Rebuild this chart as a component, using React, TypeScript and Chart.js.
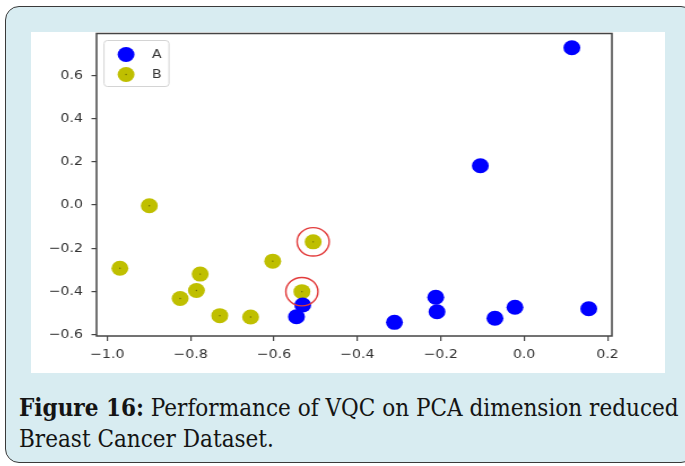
import React, { useEffect, useRef } from "react";
import { Chart, registerables } from "chart.js";

Chart.register(...registerables);

// ---- data ----
const seriesLabels = ["A", "B"];
const aX = [0.1145, -0.105, -0.212, -0.209, -0.311, -0.07, -0.022, 0.155, -0.531, -0.546];
const aY = [0.727, 0.182, -0.426, -0.493, -0.542, -0.523, -0.472, -0.479, -0.462, -0.516];
const bX = [-0.899, -0.9695, -0.777, -0.786, -0.825, -0.73, -0.656, -0.603, -0.533, -0.506];
const bY = [-0.003, -0.292, -0.319, -0.395, -0.432, -0.511, -0.517, -0.259, -0.4, -0.17];
// indices of B points that are circled in red
const circledB = [8, 9];
const xTicks = [-1.0, -0.8, -0.6, -0.4, -0.2, 0.0, 0.2];
const yTicks = [-0.6, -0.4, -0.2, 0.0, 0.2, 0.4, 0.6];
const xMin = -1.0255;
const xMax = 0.2105;
const yMin = -0.605;
const yMax = 0.793;
const captionBold = "Figure 16:";
const captionRest = " Performance of VQC on PCA dimension reduced Breast Cancer Dataset.";

const colA = "#0000ff";
const colB = "#bfbf00";
const frameCol = "#444444";
// the reference figure is slightly stretched horizontally
const STRETCH = 1.13;
const BOX_W = 634;
const BOX_H = 341;
const TOP_SHIFT = 6; // canvas extends above the white panel (clipped)
const CW = Math.round(BOX_W / STRETCH);
const CH = BOX_H + TOP_SHIFT;

const fmt = (v: number) => (v < -1e-9 ? "\u2212" : "") + Math.abs(v).toFixed(1);

const framePlugin = {
  id: "frame",
  afterDatasetsDraw(chart: any) {
    const { ctx, chartArea: ca } = chart;
    ctx.save();
    const metaB = chart.getDatasetMeta(1);
    ctx.fillStyle = "#6b6b00";
    metaB.data.forEach((pt: any) => {
      ctx.beginPath();
      ctx.arc(pt.x, pt.y, 0.7, 0, Math.PI * 2);
      ctx.fill();
    });
    const xs = chart.scales.x;
    const ys = chart.scales.y;
    ctx.strokeStyle = "#e23b3b";
    ctx.lineWidth = 1.4;
    circledB.forEach((i) => {
      const px = xs.getPixelForValue(bX[i]);
      const py = ys.getPixelForValue(bY[i]);
      ctx.beginPath();
      ctx.arc(px, py, 14.2, 0, Math.PI * 2);
      ctx.stroke();
    });
    ctx.strokeStyle = frameCol;
    ctx.lineWidth = 1.5;
    ctx.strokeRect(ca.left, ca.top, ca.right - ca.left, ca.bottom - ca.top);
    // legend
    const lx = ca.left + 6.6;
    const ly = ca.top + 7;
    const lw = 57.5;
    const lh = 46;
    ctx.beginPath();
    (ctx as any).roundRect(lx, ly, lw, lh, 3);
    ctx.fillStyle = "rgba(255,255,255,0.85)";
    ctx.fill();
    ctx.strokeStyle = "#d4d4d4";
    ctx.lineWidth = 1;
    ctx.stroke();
    const cols = [colA, colB];
    seriesLabels.forEach((lab, i) => {
      const my = ly + 14 + i * 20;
      ctx.beginPath();
      ctx.arc(lx + 19.5, my, 7.5, 0, Math.PI * 2);
      ctx.fillStyle = cols[i];
      ctx.fill();
      if (i === 1) {
        ctx.beginPath();
        ctx.arc(lx + 19.5, my, 0.7, 0, Math.PI * 2);
        ctx.fillStyle = "#6b6b00";
        ctx.fill();
      }
      ctx.fillStyle = "#333333";
      ctx.font = "12.5px 'DejaVu Sans'";
      ctx.textBaseline = "middle";
      ctx.textAlign = "left";
      ctx.fillText(lab, lx + 42.5, my + 0.5);
    });
    ctx.restore();
  },
};

export default function App() {
  const ref = useRef<HTMLCanvasElement>(null);
  useEffect(() => {
    if (!ref.current) return;
    const chart = new Chart(ref.current, {
      type: "scatter",
      data: {
        datasets: [
          {
            label: seriesLabels[0],
            data: aX.map((x, i) => ({ x, y: aY[i] })),
            backgroundColor: colA,
            borderWidth: 0,
            pointRadius: 7.5,
            pointHoverRadius: 7.5,
          },
          {
            label: seriesLabels[1],
            data: bX.map((x, i) => ({ x, y: bY[i] })),
            backgroundColor: colB,
            borderWidth: 0,
            pointRadius: 7.5,
            pointHoverRadius: 7.5,
          },
        ],
      },
      options: {
        animation: false,
        responsive: false,
        maintainAspectRatio: false,
        layout: { padding: { top: 2, right: 47, left: 0, bottom: 0 } },
        plugins: { legend: { display: false }, tooltip: { enabled: false } },
        scales: {
          x: {
            type: "linear",
            min: xMin,
            max: xMax,
            afterBuildTicks: (s: any) => {
              s.ticks = xTicks.map((v) => ({ value: v }));
            },
            afterFit: (s: any) => {
              s.height = 37;
              s.paddingLeft = 0;
              s.paddingRight = 0;
            },
            border: { display: false },
            grid: { drawOnChartArea: false, drawTicks: true, tickLength: 5, color: frameCol, lineWidth: 1.2 },
            ticks: {
              callback: (v: any) => fmt(Number(v)),
              color: "#333333",
              font: { family: "'DejaVu Sans'", size: 12.5 },
              padding: 6,
              maxRotation: 0,
            },
          },
          y: {
            type: "linear",
            min: yMin,
            max: yMax,
            afterBuildTicks: (s: any) => {
              s.ticks = yTicks.map((v) => ({ value: v }));
            },
            afterFit: (s: any) => {
              s.width = 58;
              s.paddingTop = 0;
              s.paddingBottom = 0;
            },
            border: { display: false },
            grid: { drawOnChartArea: false, drawTicks: true, tickLength: 4.5, color: frameCol, lineWidth: 1.2 },
            ticks: {
              callback: (v: any) => fmt(Number(v)),
              color: "#333333",
              font: { family: "'DejaVu Sans'", size: 12.5 },
              padding: 7.5,
            },
          },
        },
      },
      plugins: [framePlugin],
    } as any);
    return () => chart.destroy();
  }, []);

  return (
    <div style={{ position: "absolute", left: 0, top: 0, width: 685, height: 466, overflow: "hidden", background: "#ffffff" }}>
      <div
        style={{
          position: "absolute",
          left: 5,
          top: 6,
          width: 690,
          height: 457,
          boxSizing: "border-box",
          border: "1.5px solid #3a3a3a",
          borderRadius: 14,
          background: "#d8ecf1",
        }}
      />
      <div style={{ position: "absolute", left: 31, top: 32, width: BOX_W, height: BOX_H, background: "#ffffff", overflow: "hidden" }}>
        <canvas
          ref={ref}
          width={CW}
          height={CH}
          style={{
            position: "absolute",
            left: 0,
            top: -TOP_SHIFT,
            display: "block",
            width: CW,
            height: CH,
            transform: `scaleX(${BOX_W / CW})`,
            transformOrigin: "0 0",
          }}
        />
      </div>
      <div
        style={{
          position: "absolute",
          left: 19,
          top: 392,
          width: 664,
          fontFamily: "'DejaVu Serif Condensed', 'DejaVu Serif'",
          fontStretch: "condensed",
          fontSize: 24,
          lineHeight: "31px",
          color: "#141414",
          whiteSpace: "normal",
        }}
      >
        <b>{captionBold}</b>
        {captionRest}
      </div>
    </div>
  );
}
